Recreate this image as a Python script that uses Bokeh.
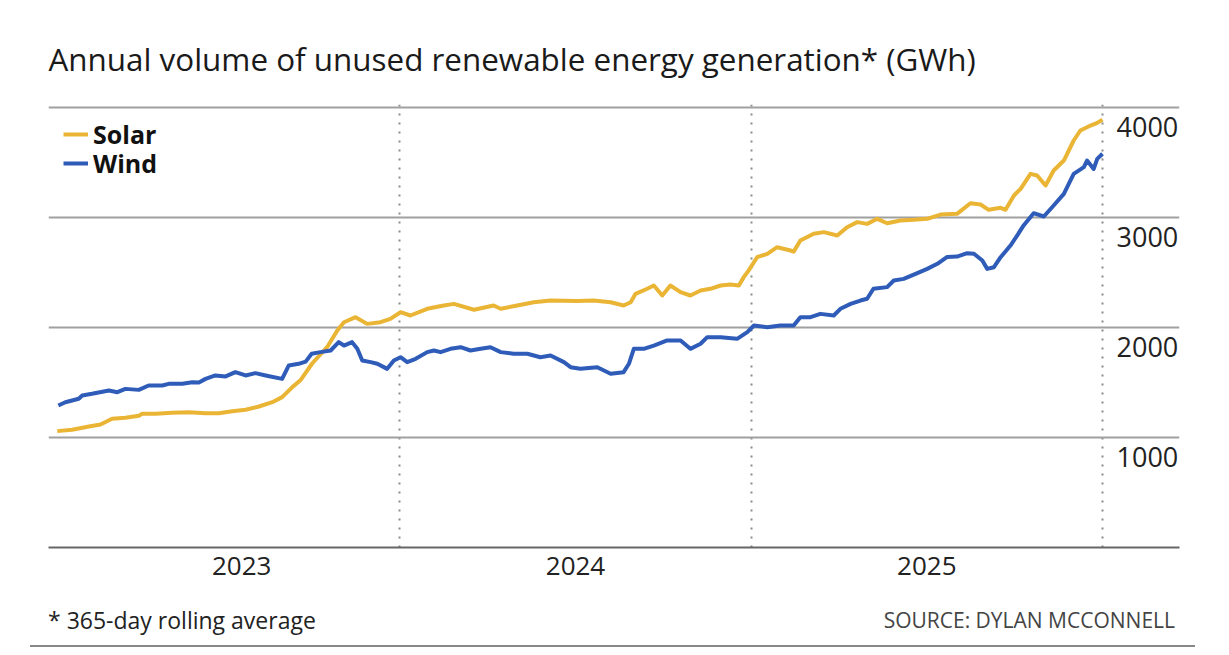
from bokeh.plotting import figure
from bokeh.models import (Legend, LegendItem, FixedTicker, Range1d, ColumnDataSource,
                          Title, Div)
from bokeh.layouts import column
from bokeh.embed import file_html
from bokeh.resources import INLINE
from bokeh.core.properties import value

TITLE = "Annual volume of unused renewable energy generation* (GWh)"
FOOT_NOTE = "* 365-day rolling average"
SOURCE = "SOURCE: DYLAN MCCONNELL"

# decimal-year positions and GWh values
wind_year = [2023.028, 2023.048, 2023.086, 2023.096, 2023.124, 2023.172, 2023.196, 2023.219,
             2023.257, 2023.285, 2023.324, 2023.342, 2023.381, 2023.409, 2023.428, 2023.447,
             2023.475, 2023.504, 2023.532, 2023.561, 2023.589, 2023.618, 2023.665, 2023.684,
             2023.712, 2023.732, 2023.749, 2023.774, 2023.803, 2023.826, 2023.841, 2023.864,
             2023.879, 2023.893, 2023.917, 2023.936, 2023.964, 2023.983, 2024.002, 2024.021,
             2024.045, 2024.078, 2024.097, 2024.116, 2024.144, 2024.173, 2024.201, 2024.230,
             2024.258, 2024.287, 2024.324, 2024.363, 2024.400, 2024.429, 2024.467, 2024.486,
             2024.514, 2024.562, 2024.600, 2024.637, 2024.652, 2024.666, 2024.694, 2024.723,
             2024.761, 2024.799, 2024.827, 2024.856, 2024.875, 2024.913, 2024.960, 2024.989,
             2025.008, 2025.046, 2025.083, 2025.121, 2025.140, 2025.169, 2025.197, 2025.235,
             2025.254, 2025.283, 2025.311, 2025.330, 2025.348, 2025.387, 2025.406, 2025.434,
             2025.473, 2025.501, 2025.530, 2025.558, 2025.586, 2025.615, 2025.634, 2025.658,
             2025.672, 2025.691, 2025.710, 2025.738, 2025.757, 2025.776, 2025.804, 2025.833,
             2025.861, 2025.890, 2025.918, 2025.947, 2025.956, 2025.975, 2025.985, 2026.000]
wind_gwh = [1291, 1321, 1352, 1382, 1397, 1427, 1412, 1442,
            1433, 1473, 1473, 1488, 1488, 1503, 1500, 1533,
            1564, 1555, 1594, 1564, 1585, 1564, 1533, 1655,
            1670, 1690, 1761, 1776, 1791, 1867, 1836, 1867,
            1806, 1700, 1685, 1670, 1624, 1700, 1730, 1685,
            1715, 1776, 1791, 1776, 1806, 1821, 1791, 1806,
            1821, 1776, 1761, 1761, 1730, 1745, 1685, 1639,
            1625, 1639, 1579, 1594, 1670, 1806, 1806, 1836,
            1882, 1882, 1806, 1852, 1912, 1912, 1897, 1958,
            2018, 2003, 2018, 2018, 2094, 2094, 2124, 2109,
            2170, 2215, 2245, 2261, 2352, 2367, 2427, 2442,
            2495, 2533, 2579, 2642, 2645, 2676, 2670, 2609,
            2533, 2548, 2639, 2745, 2836, 2930, 3039, 3009,
            3109, 3215, 3397, 3458, 3518, 3442, 3533, 3579]

solar_year = [2023.025, 2023.067, 2023.115, 2023.148, 2023.181, 2023.219, 2023.257, 2023.267,
              2023.305, 2023.352, 2023.399, 2023.447, 2023.485, 2023.523, 2023.561, 2023.599,
              2023.637, 2023.665, 2023.694, 2023.717, 2023.751, 2023.793, 2023.822, 2023.841,
              2023.874, 2023.907, 2023.945, 2023.973, 2024.002, 2024.030, 2024.078, 2024.125,
              2024.154, 2024.211, 2024.267, 2024.287, 2024.334, 2024.381, 2024.429, 2024.505,
              2024.552, 2024.600, 2024.637, 2024.657, 2024.671, 2024.704, 2024.723, 2024.747,
              2024.770, 2024.799, 2024.827, 2024.856, 2024.884, 2024.913, 2024.941, 2024.965,
              2024.979, 2024.993, 2025.017, 2025.046, 2025.074, 2025.112, 2025.121, 2025.140,
              2025.178, 2025.207, 2025.245, 2025.273, 2025.302, 2025.330, 2025.359, 2025.387,
              2025.425, 2025.463, 2025.501, 2025.539, 2025.586, 2025.624, 2025.653, 2025.676,
              2025.710, 2025.724, 2025.748, 2025.767, 2025.795, 2025.814, 2025.838, 2025.861,
              2025.890, 2025.918, 2025.937, 2025.966, 2025.985, 2026.000]
solar_gwh = [1058, 1070, 1100, 1118, 1170, 1179, 1197, 1215,
             1215, 1224, 1230, 1221, 1221, 1239, 1252, 1282,
             1321, 1367, 1458, 1520, 1675, 1821, 1973, 2048,
             2094, 2033, 2048, 2079, 2139, 2109, 2170, 2200,
             2215, 2161, 2200, 2170, 2200, 2230, 2245, 2240,
             2245, 2230, 2200, 2230, 2306, 2352, 2382, 2291,
             2382, 2321, 2291, 2336, 2352, 2382, 2390, 2382,
             2458, 2520, 2639, 2670, 2730, 2700, 2690, 2791,
             2852, 2867, 2836, 2912, 2958, 2942, 2988, 2948,
             2973, 2979, 2988, 3027, 3033, 3130, 3118, 3070,
             3088, 3070, 3200, 3261, 3397, 3382, 3291, 3427,
             3518, 3700, 3791, 3836, 3860, 3890]

year_bounds = [2023, 2024, 2025, 2026]
year_label_pos = [2023.55, 2024.5, 2025.5]
year_labels = ["2023", "2024", "2025"]
y_ticks = [1000, 2000, 3000, 4000]
y_tick_labels = ["1000", "2000", "3000", "4000"]

SOLAR_C = "#EAB535"
WIND_C = "#2E5CB8"
FONT = "Open Sans"

W, H = 1213, 590
ML, MR, MT = 48, 34, 104
FRAME_BOTTOM = 547
MB = H - FRAME_BOTTOM
frame_w = W - ML - MR
frame_h = H - MT - MB
px_per_year = 1054 / 3.0
px_per_gwh = 110 / 1000.0

x0 = float(year_bounds[0])
p = figure(width=W, height=H, output_backend="svg", toolbar_location=None,
           x_range=Range1d(x0, x0 + frame_w / px_per_year),
           y_range=Range1d(0, frame_h / px_per_gwh),
           y_axis_location=None, min_border_left=ML, min_border_right=MR,
           min_border_top=MT, min_border_bottom=MB)
p.outline_line_color = None
p.background_fill_color = "white"
p.border_fill_color = "white"

p.add_layout(Title(text=TITLE, align="left", offset=0, standoff=50,
                   text_font=FONT, text_font_size="31.4px", text_font_style="normal",
                   text_color="#1a1a1a"), "above")

# grids
p.xgrid.ticker = FixedTicker(ticks=year_bounds)
p.xgrid.grid_line_color = "#8a8a8a"
p.xgrid.grid_line_width = 2
p.xgrid.grid_line_dash = "2 7"
p.ygrid.ticker = FixedTicker(ticks=y_ticks)
p.ygrid.grid_line_color = "#a0a0a0"
p.ygrid.grid_line_width = 2

# x axis
ax = p.xaxis[0]
ax.ticker = FixedTicker(ticks=year_label_pos)
ax.major_label_overrides = {k: v for k, v in zip(year_label_pos, year_labels)}
ax.major_tick_line_color = None
ax.minor_tick_line_color = None
ax.axis_line_color = "#666666"
ax.axis_line_width = 2
ax.major_label_text_font = FONT
ax.major_label_text_font_size = "26px"
ax.major_label_text_color = "#222222"
ax.major_label_standoff = 3

# lines
solar_src = ColumnDataSource(dict(x=solar_year, y=solar_gwh))
wind_src = ColumnDataSource(dict(x=wind_year, y=wind_gwh))
r_solar = p.line("x", "y", source=solar_src, line_color=SOLAR_C, line_width=4, line_join="round")
r_wind = p.line("x", "y", source=wind_src, line_color=WIND_C, line_width=4, line_join="round")

# right-side value labels, sitting below each gridline
p.text(x=[max(wind_year)] * len(y_ticks), y=y_ticks, text=y_tick_labels,
       x_offset=14, y_offset=19, text_align="left", text_baseline="middle",
       text_font=value(FONT), text_font_size="27px", text_color="#222222")

# legend: one single-row legend per series, so the row pitch matches the reference
ROW_H = 34
legend_rows = [("Solar", r_solar, 134), ("Wind", r_wind, 163)]
for name, rend, centre_px in legend_rows:
    p.add_layout(Legend(items=[LegendItem(label=name, renderers=[rend])],
                        location=(15, (FRAME_BOTTOM - centre_px) - ROW_H / 2),
                        margin=0, padding=0, spacing=0,
                        label_height=ROW_H, glyph_height=ROW_H, glyph_width=25,
                        label_standoff=5, label_text_font=FONT,
                        label_text_font_style="bold", label_text_font_size="25px",
                        label_text_line_height=1.0, label_text_color="#111111",
                        background_fill_alpha=0, border_line_color=None))

footer_html = (
    '<div style="position:relative;width:1213px;height:57px;font-family:\'Open Sans\';">'
    '<div style="position:absolute;left:48px;top:19px;font-size:23px;line-height:23px;'
    'color:#222;white-space:nowrap;">' + FOOT_NOTE + '</div>'
    '<div style="position:absolute;right:38px;top:20px;font-size:21px;line-height:21px;'
    'color:#444;white-space:nowrap;">' + SOURCE + '</div>'
    '<div style="position:absolute;left:30px;width:1165px;top:55px;height:2px;'
    'background:#888;"></div>'
    '</div>'
)
footer = Div(text=footer_html, width=W, height=57, margin=0)

layout = column(p, footer, spacing=0)
open("out.html", "w").write(file_html(layout, INLINE))
